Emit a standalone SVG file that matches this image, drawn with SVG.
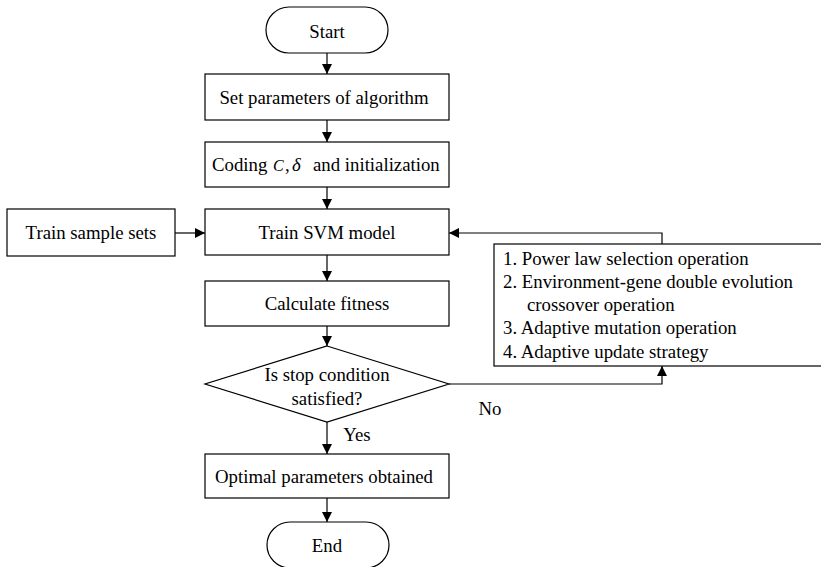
<svg xmlns="http://www.w3.org/2000/svg" width="821" height="567" viewBox="0 0 821 567" font-family="'Liberation Serif', 'Times New Roman', Times, serif">
<style>
.b{fill:#fff;stroke:#000;stroke-width:1.2}
.t{font-family:'Liberation Serif', 'Times New Roman', Times, serif;font-size:18.8px;fill:#000}
.c{text-anchor:middle}
.l{fill:none;stroke:#000;stroke-width:1.2}
</style>
<defs>
<marker id="a" markerWidth="10" markerHeight="10" refX="10" refY="5" orient="auto" markerUnits="userSpaceOnUse">
<path d="M0,0 L10,5 L0,10 Z" fill="#000"/>
</marker>
</defs>
<rect width="821" height="567" fill="#fff"/>
<g id="connectors">
<line class="l" x1="327" y1="53" x2="327" y2="74" marker-end="url(#a)"/>
<line class="l" x1="327" y1="120" x2="327" y2="142" marker-end="url(#a)"/>
<line class="l" x1="327" y1="187" x2="327" y2="209" marker-end="url(#a)"/>
<line class="l" x1="175" y1="233" x2="205" y2="233" marker-end="url(#a)"/>
<line class="l" x1="327" y1="255" x2="327" y2="281" marker-end="url(#a)"/>
<line class="l" x1="327" y1="326" x2="327" y2="346" marker-end="url(#a)"/>
<line class="l" x1="327" y1="422" x2="327" y2="454" marker-end="url(#a)"/>
<line class="l" x1="327" y1="498" x2="327" y2="522" marker-end="url(#a)"/>
<polyline class="l" points="449,384 662,384 662,366" marker-end="url(#a)"/>
<polyline class="l" points="662,244 662,233 449,233" marker-end="url(#a)"/>
<text class="t c" x="357" y="441">Yes</text>
<text class="t c" x="490" y="415">No</text>
</g>
<g id="start">
<rect class="b" x="266" y="7" width="122" height="46" rx="23"/>
<text class="t c" x="327" y="38">Start</text>
</g>
<g id="set">
<rect class="b" x="205" y="74" width="244" height="46"/>
<text class="t c" x="324" y="104">Set parameters of algorithm</text>
</g>
<g id="coding">
<rect class="b" x="205" y="142" width="244" height="45"/>
<text class="t" x="212" y="171">Coding<tspan x="273" font-style="italic" font-size="16">C</tspan><tspan x="285">,</tspan><tspan x="292" font-style="italic">δ</tspan><tspan x="313">and initialization</tspan></text>
</g>
<g id="sample">
<rect class="b" x="7" y="209" width="168" height="47"/>
<text class="t c" x="91" y="239">Train sample sets</text>
</g>
<g id="train">
<rect class="b" x="205" y="209" width="244" height="46"/>
<text class="t c" x="327" y="239">Train SVM model</text>
</g>
<g id="fitness">
<rect class="b" x="205" y="281" width="244" height="45"/>
<text class="t c" x="327" y="310">Calculate fitness</text>
</g>
<g id="decision">
<polygon class="b" points="327,346 449,384 327,422 205,384"/>
<text class="t c" x="327" y="381">Is stop condition</text>
<text class="t c" x="327" y="405">satisfied?</text>
</g>
<g id="ops">
<rect class="b" x="494" y="244" width="340" height="122"/>
<text class="t" x="503" y="265">1. Power law selection operation</text>
<text class="t" x="503" y="288">2. Environment-gene double evolution</text>
<text class="t" x="527" y="311">crossover operation</text>
<text class="t" x="503" y="334">3. Adaptive mutation operation</text>
<text class="t" x="503" y="358">4. Adaptive update strategy</text>
</g>
<g id="optimal">
<rect class="b" x="205" y="454" width="244" height="44"/>
<text class="t c" x="324" y="483">Optimal parameters obtained</text>
</g>
<g id="end">
<rect class="b" x="267" y="522" width="122" height="46" rx="23"/>
<text class="t c" x="327" y="552">End</text>
</g>
</svg>
